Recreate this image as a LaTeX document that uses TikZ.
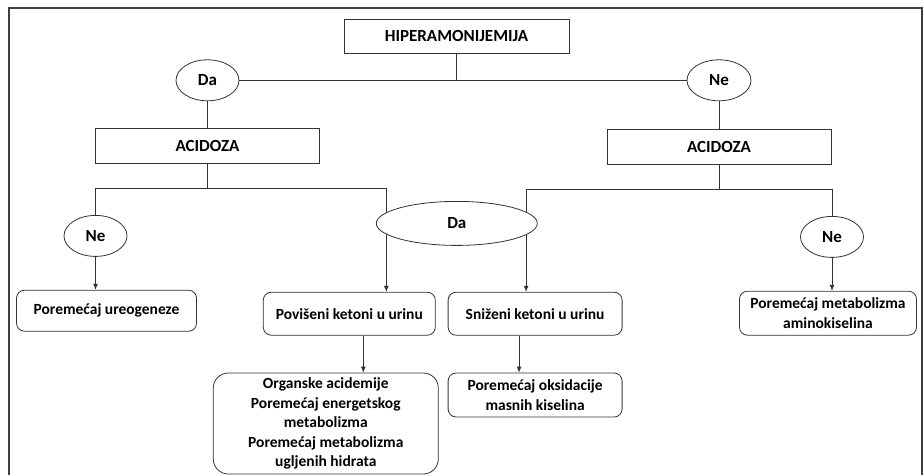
\documentclass[tikz,border=0pt]{standalone}
\usepackage{fontspec}
\setmainfont{Carlito}
\usetikzlibrary{positioning,shapes.geometric,arrows.meta}

\begin{document}
\begin{tikzpicture}[
  x=1pt, y=1pt,
  line width=0.8pt,
  box/.style={
    draw=black!80,
    align=center,
    inner sep=0pt,
    minimum height=35pt,
    fill=white,
    font=\fontsize{17}{21}\selectfont\bfseries
  },
  result/.style={box, rounded corners=8pt, minimum height=43pt, font=\fontsize{15.5}{19.5}\selectfont\bfseries},
  answer/.style={
    draw=black!80,
    ellipse,
    inner sep=0pt,
    minimum width=63pt,
    minimum height=41pt,
    fill=white,
    font=\fontsize{17}{21}\selectfont\bfseries
  },
  line/.style={draw=black!80, -{Latex[length=6pt,width=5pt]}},
  link/.style={draw=black!80},
  frame/.style={draw=black!75, line width=1.2pt}
]
\useasboundingbox (0,0) rectangle (924,-475);
\draw[frame] (9,-475) -- (9,-8) -- (922,-8) -- (922,-475);

\node[box, minimum width=225pt, minimum height=34pt] (hyper) at (456.5,-36) {HIPERAMONIJEMIJA};
\node[answer, below=6pt of hyper, xshift=-249pt] (da1) {Da};
\node[answer, below=6pt of hyper, xshift=262.5pt, minimum width=64pt] (ne1) {Ne};

\node[box, below=27pt of da1, minimum width=224pt] (acid1) {ACIDOZA};
\node[box, below=28pt of ne1, minimum width=224pt] (acid2) {ACIDOZA};

\node[answer, below=51pt of acid1, xshift=-112pt] (ne2) {Ne};
\node[answer, below=51pt of acid2, xshift=113pt] (ne3) {Ne};

\node[result, below=33pt of ne2, xshift=11pt, minimum width=180pt, minimum height=41pt] (urea) {Poremećaj ureogeneze};
\node[result, right=66pt of urea, yshift=-3pt, minimum width=172pt] (povis) {Povišeni ketoni u urinu};
\node[result, right=12pt of povis, minimum width=174pt] (snizen) {Sniženi ketoni u urinu};
\node[result, below=33pt of ne3, xshift=-4pt, minimum width=177pt, minimum height=44pt] (amino) {Poremećaj metabolizma\\aminokiselina};

\node[result, below=37pt of povis, xshift=-23.5pt, minimum width=225pt, minimum height=101pt, rounded corners=15pt] (organ) {Organske acidemije\\Poremećaj energetskog\\metabolizma\\Poremećaj metabolizma\\ugljenih hidrata};
\node[result, below=37pt of snizen, minimum width=174pt, minimum height=44pt] (oksid) {Poremećaj oksidacije\\masnih kiselina};

% yes / no split under the root
\draw[link] (hyper) -- (hyper |- da1);
\draw[link] (da1) -- (ne1);
\draw[link] (da1) -- (acid1);
\draw[link] (ne1) -- (acid2);

% acidosis branches
\coordinate[below=24pt of acid1] (split1);
\coordinate[below=24pt of acid2] (split2);
\draw[link] (acid1) -- (split1) -| (ne2);
\draw[line] (split1) -| ([xshift=37pt]povis.north);
\draw[link] (acid2) -- (split2) -| (ne3);
\draw[line] (split2) -| ([xshift=-9pt]snizen.north);

\draw[line] (ne2) -- (ne2 |- urea.north);
\draw[line] (ne3) -- (ne3 |- amino.north);

\coordinate[xshift=14pt] (povisout) at (povis.south);
\coordinate[xshift=-16pt] (snizenout) at (snizen.south);
\draw[line] (povisout) -- (povisout |- organ.north);
\draw[line] (snizenout) -- (snizenout |- oksid.north);

\node[answer, above=46pt of povis, xshift=107.5pt, minimum width=161pt, minimum height=44pt] (da2) {Da};
\end{tikzpicture}
\end{document}
